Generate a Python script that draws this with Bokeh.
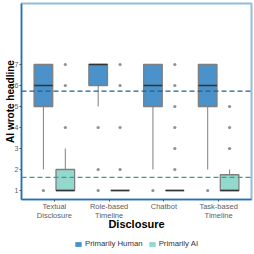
from bokeh.plotting import figure
from bokeh.models import FixedTicker, Legend, LegendItem, Span
from bokeh.layouts import column
from bokeh.embed import file_html
from bokeh.resources import INLINE

categories = ["Textual\nDisclosure", "Role-based\nTimeline", "Chatbot", "Task-based\nTimeline"]
groups = ["Primarily Human", "Primarily AI"]

human_q1 = [5, 6, 5, 5]
human_median = [6, 7, 6, 6]
human_q3 = [7, 7, 7, 7]
human_lower = [2, 5, 2, 2]
human_upper = [7, 7, 7, 7]
human_outliers = [[1], [4, 2, 1], [1], [1]]
human_mean = 5.73

ai_q1 = [1, 1, 1, 1]
ai_median = [1, 1, 1, 1]
ai_q3 = [2, 1, 1, 1.75]
ai_lower = [1, 1, 1, 1]
ai_upper = [3, 1, 1, 2]
ai_outliers = [[7, 6, 4], [7, 6, 4, 2], [7, 6, 5, 4, 3, 2], [5, 4, 3]]
ai_mean = 1.62

human_color = "#4a92c9"
ai_color = "#93d8cc"
FONT = "Liberation Sans"

p = figure(width=254, height=238, output_backend="svg", toolbar_location=None,
           x_range=(0.4, 4.6), y_range=(0.571, 9.905),
           min_border_left=21, min_border_right=3, min_border_top=3, min_border_bottom=39)
p.grid.visible = False
p.background_fill_color = "white"
p.outline_line_color = "#8fbde0"
p.outline_line_width = 2

xpos = list(range(1, len(categories) + 1))
off = 0.2
bw = 0.34

def draw(q1, med, q3, lo, up, outs, color, shift):
    xs = [x + shift for x in xpos]
    p.segment(x0=xs, y0=q3, x1=xs, y1=up, line_color="#7f7f7f", line_width=1)
    p.segment(x0=xs, y0=q1, x1=xs, y1=lo, line_color="#7f7f7f", line_width=1)
    p.vbar(x=xs, bottom=q1, top=q3, width=bw, fill_color=color,
           line_color="#7f7f7f", line_width=1.3)
    p.segment(x0=[x - bw / 2 for x in xs], y0=med, x1=[x + bw / 2 for x in xs], y1=med,
              line_color="#333333", line_width=1.4)
    ox, oy = [], []
    for x, o in zip(xs, outs):
        ox += [x] * len(o)
        oy += o
    p.scatter(ox, oy, size=3.2, fill_color="#56666d", line_color=None, fill_alpha=0.7)

draw(human_q1, human_median, human_q3, human_lower, human_upper, human_outliers, human_color, -off)
draw(ai_q1, ai_median, ai_q3, ai_lower, ai_upper, ai_outliers, ai_color, off)

p.add_layout(Span(location=human_mean, dimension="width", line_color="#1f5f99",
                  line_dash="5 3", line_width=1.4))
p.add_layout(Span(location=ai_mean, dimension="width", line_color="#3a9c8c",
                  line_dash="5 3", line_width=1.2))

# axes
p.xaxis.ticker = FixedTicker(ticks=xpos)
p.xaxis.major_label_overrides = {x: c for x, c in zip(xpos, categories)}
p.yaxis.ticker = FixedTicker(ticks=[1, 2, 3, 4, 5, 6, 7])
for ax in (p.xaxis, p.yaxis):
    ax.axis_line_color = "#2c6fae"
    ax.axis_line_width = 1.5
    ax.major_tick_line_color = "#555555"
    ax.major_tick_out = 2
    ax.major_tick_in = 0
    ax.minor_tick_line_color = None
    ax.major_label_text_font = FONT
    ax.major_label_text_font_size = "7.5px"
    ax.major_label_text_color = "#606060"
    ax.axis_label_text_font = FONT
    ax.axis_label_text_font_style = "bold"
    ax.axis_label_text_color = "black"
p.xaxis.axis_label = "Disclosure"
p.yaxis.axis_label = "AI wrote headline"
p.xaxis.axis_label_text_font_size = "11px"
p.yaxis.axis_label_text_font_size = "10px"
p.yaxis.major_label_text_font_size = "7px"
p.xaxis.major_label_standoff = 0
p.yaxis.major_label_standoff = 1
p.xaxis.axis_label_standoff = -5
p.yaxis.axis_label_standoff = -4
p.xaxis.major_label_text_line_height = 1.0

# legend in its own strip below the chart
lf = figure(width=254, height=16, output_backend="svg", toolbar_location=None,
            x_range=(0, 1), y_range=(0, 1),
            min_border_left=0, min_border_right=0, min_border_top=0, min_border_bottom=0)
lf.axis.visible = False
lf.grid.visible = False
lf.outline_line_color = None
r1 = lf.vbar(x=[-10], top=[-10], bottom=[-11], width=0.1, fill_color=human_color, line_alpha=0)
r2 = lf.vbar(x=[-10], top=[-10], bottom=[-11], width=0.1, fill_color=ai_color, line_alpha=0)
legend = Legend(items=[LegendItem(label=groups[0], renderers=[r1]),
                       LegendItem(label=groups[1], renderers=[r2])],
                orientation="horizontal", location=(53, 6),
                label_text_font=FONT, label_text_font_size="7.8px",
                label_text_color="#333333", background_fill_alpha=0,
                glyph_width=8, glyph_height=6, label_standoff=3, spacing=5,
                padding=0, margin=0, border_line_color=None,
                label_height=9)
lf.add_layout(legend, "center")

layout = column(p, lf, spacing=0)
open("out.html", "w").write(file_html(layout, INLINE))
